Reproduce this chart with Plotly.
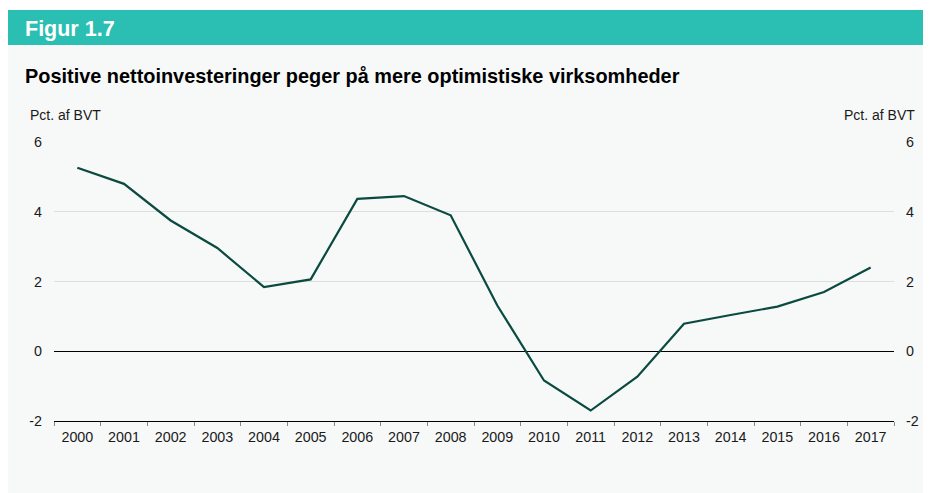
import plotly.graph_objects as go

years = [str(y) for y in range(2000, 2018)]
values = [5.26, 4.80, 3.75, 2.96, 1.84, 2.06, 4.37, 4.45, 3.90, 1.31,
          -0.84, -1.70, -0.73, 0.79, 1.04, 1.28, 1.70, 2.40]
y_ticks = [-2, 0, 2, 4, 6]
y_tick_text = ["-2", "0", "2", "4", "6"]

OFF = 8  # page body margin
W, H = 931 - OFF, 493 - OFF
# plot area in screen pixels (reference)
L, R, T, B = 54, 897.5, 142, 421
pw, ph = R - L, B - T

def px(x):
    return (x - L) / pw

def py(y):
    return (B - y) / ph

FONT = "Arial, Liberation Sans, sans-serif"
BG = "#F7F9F9"
TEAL = "#2BBFB3"
LINE = "#0B4A3F"
TXT = "#1a1a1a"

fig = go.Figure()
fig.add_trace(go.Scatter(x=years, y=values, mode="lines",
                         line=dict(color=LINE, width=2.2), hoverinfo="x+y",
                         showlegend=False))
fig.add_trace(go.Scatter(x=years, y=values, mode="lines", yaxis="y2",
                         line=dict(color=LINE, width=0), opacity=0,
                         hoverinfo="skip", showlegend=False))

fig.update_layout(
    width=W, height=H,
    margin=dict(l=L - OFF, r=931 - R, t=T - OFF, b=493 - B, pad=0),
    paper_bgcolor="white",
    plot_bgcolor="rgba(0,0,0,0)",
    font=dict(family=FONT, size=14, color=TXT),
    xaxis=dict(type="category", range=[-0.5, 17.5], showgrid=False,
               ticks="outside", ticklen=4, tickcolor="#888888",
               tickson="boundaries", showline=True, linecolor="black",
               linewidth=1, zeroline=False,
               ticklabelstandoff=3, tickfont=dict(size=14.3, color=TXT)),
    yaxis=dict(range=[-2, 6], tickvals=y_ticks, ticktext=y_tick_text,
               showgrid=True, gridcolor="#DEDEDE", gridwidth=1,
               zeroline=True, zerolinecolor="black", zerolinewidth=1,
               showline=False, ticks="", ticklabelstandoff=11,
               tickfont=dict(size=14.3, color=TXT)),
    yaxis2=dict(range=[-2, 6], tickvals=y_ticks, ticktext=y_tick_text,
                overlaying="y", side="right",
                showgrid=False, zeroline=False, showline=False, ticks="",
                ticklabelstandoff=11, tickfont=dict(size=14.3, color=TXT)),
    shapes=[
        dict(type="rect", xref="paper", yref="paper", layer="below",
             x0=px(5), x1=px(940), y0=py(500), y1=py(10),
             fillcolor=BG, line=dict(width=0)),
        dict(type="rect", xref="paper", yref="paper", layer="below",
             x0=px(5), x1=px(940), y0=py(45), y1=py(10),
             fillcolor=TEAL, line=dict(width=0)),
    ],
    annotations=[
        dict(text="<b>Figur 1.7</b>", xref="paper", yref="paper",
             x=px(23), y=py(28.5), xanchor="left", yanchor="middle",
             showarrow=False, font=dict(size=21.5, color="white", family=FONT)),
        dict(text="<b>Positive nettoinvesteringer peger på mere optimistiske virksomheder</b>",
             xref="paper", yref="paper", x=px(23), y=py(76),
             xanchor="left", yanchor="middle", showarrow=False,
             font=dict(size=19.9, color="black", family=FONT)),
        dict(text="Pct. af BVT", xref="paper", yref="paper", x=px(28), y=py(115),
             xanchor="left", yanchor="middle", showarrow=False,
             font=dict(size=14, color=TXT, family=FONT)),
        dict(text="Pct. af BVT", xref="paper", yref="paper", x=px(921), y=py(115),
             xanchor="right", yanchor="middle", showarrow=False,
             font=dict(size=14, color=TXT, family=FONT)),
    ],
)

fig.write_html("out.html")
